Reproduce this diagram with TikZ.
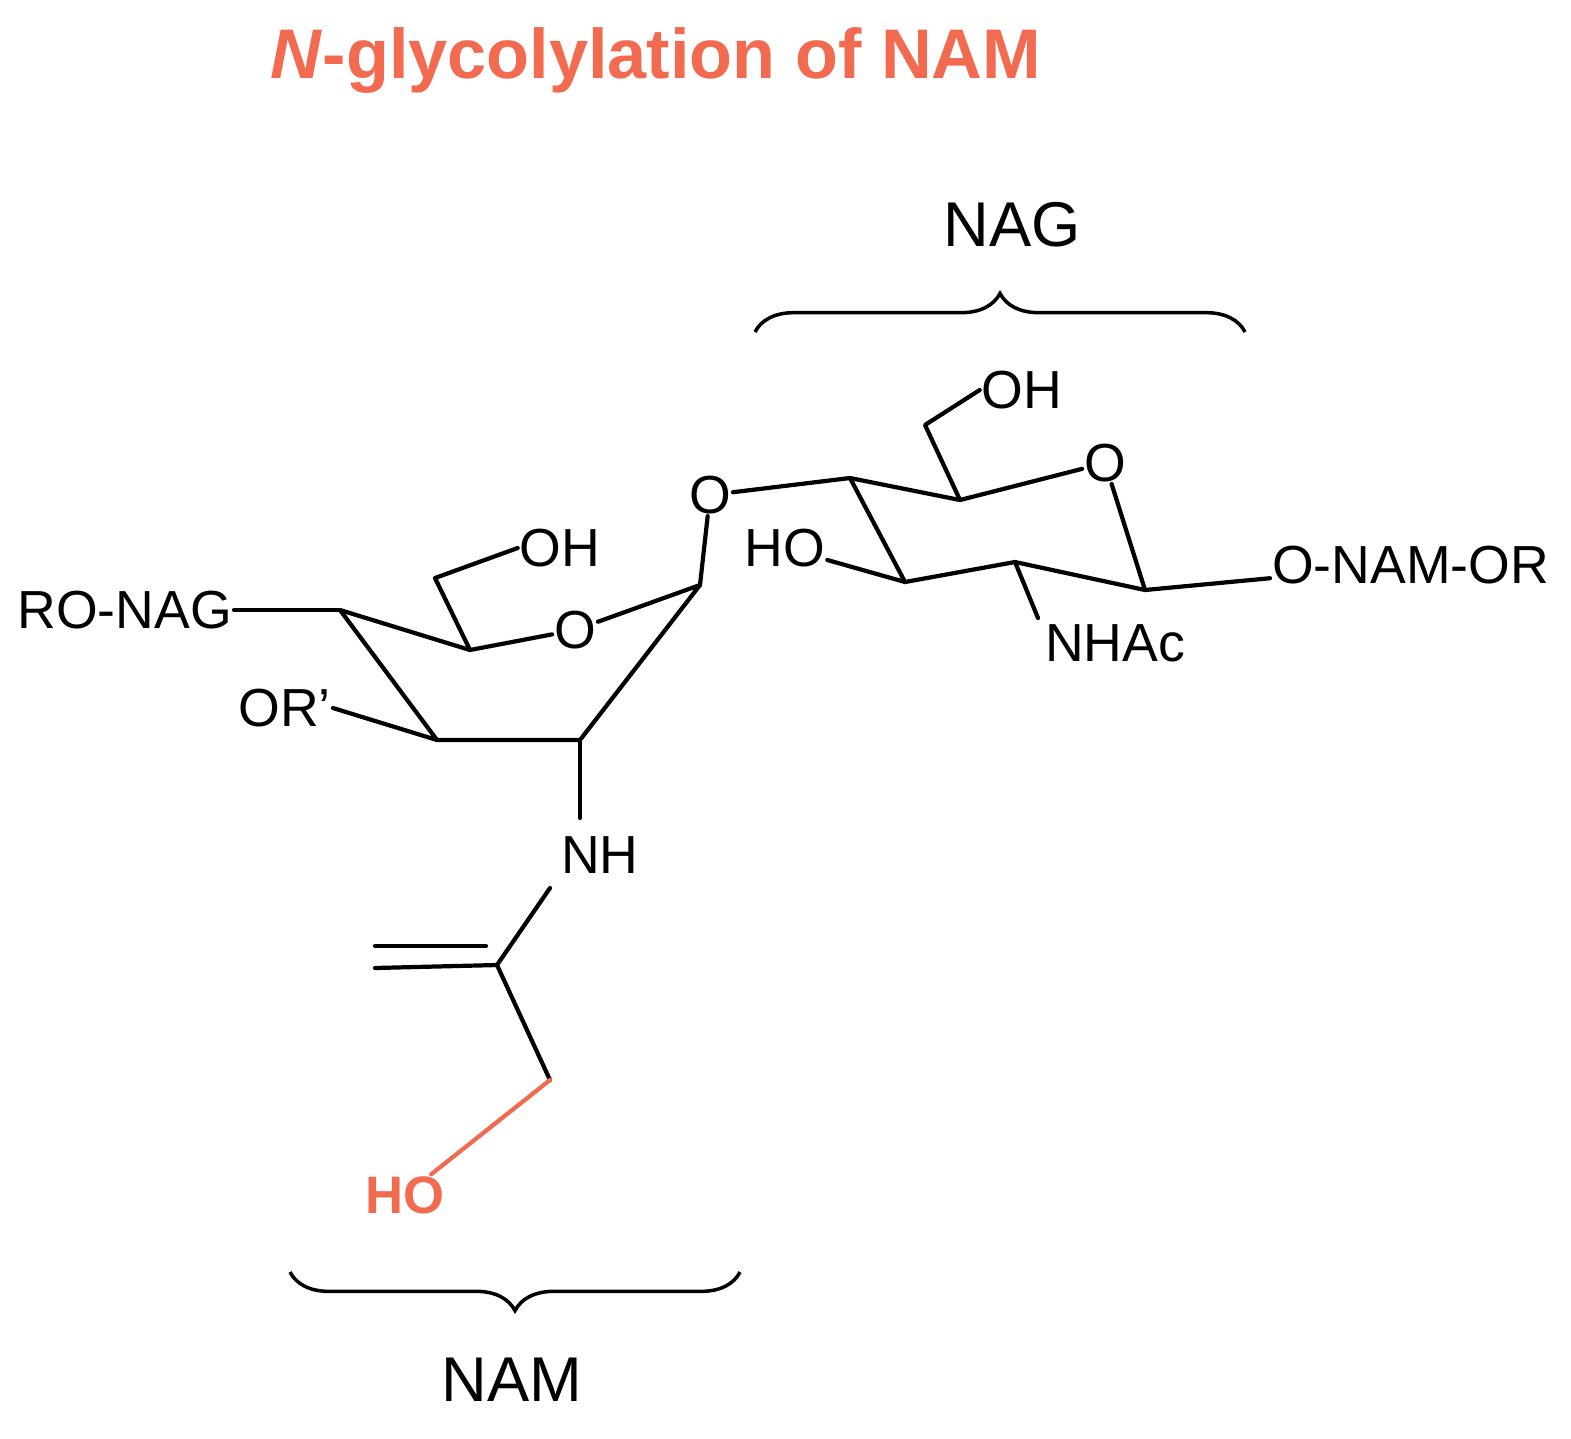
\documentclass[tikz,border=0pt]{standalone}
\usepackage{fontspec}
\setmainfont{Liberation Sans}
\usetikzlibrary{decorations.pathreplacing}
\definecolor{accent}{HTML}{F26A4F}
\begin{document}
\begin{tikzpicture}[x=0.02cm,y=-0.02cm,
  lab/.style={font=\fontsize{30.5}{30}\selectfont, inner sep=1pt},
  bond/.style={line width=2.4pt, line cap=round, line join=round},
  brc/.style={line width=2pt, decorate, decoration={brace, amplitude=22pt}}]
\useasboundingbox (0,0) rectangle (1571,1438);
\node[font=\bfseries\fontsize{40}{40}\selectfont, text=accent] (title) at (656,60) {\textit{N}-glycolylation of NAM};
\node[font=\fontsize{36}{36}\selectfont] (nag) at (1012,225) {NAG};
\node[font=\fontsize{36}{36}\selectfont] (nam) at (512,1380) {NAM};
% braces
\coordinate (b1l) at (755,332); \coordinate (b1r) at (1245,332);
\draw[brc] (b1l) -- (b1r);
\coordinate (b2l) at (740,1272); \coordinate (b2r) at (290,1272);
\draw[brc] (b2l) -- (b2r);
% NAM ring
\coordinate (a4) at (340,610); \coordinate (a5) at (470,650);
\node[lab] (ao) at (575,630) {O};
\coordinate (a1) at (700,585); \coordinate (a2) at (580,740); \coordinate (a3) at (437,740);
\coordinate (a6) at (435,578);
\node[lab] (aoh) at (560,548) {OH};
\node[lab, anchor=east] (rnag) at (234,610) {RO-NAG};
\node[lab, anchor=east] (orp) at (333,708) {OR’};
\node[lab] (nh) at (600,855) {NH};
\coordinate (nht) at (580,818); \coordinate (nhb) at (550,888);
\coordinate (cc) at (497,965); \coordinate (ch2) at (375,968); \coordinate (cb) at (375,946);
\coordinate (cbb) at (486,946);
\coordinate (c6) at (550,1080);
\node[lab, text=accent, font=\bfseries\fontsize{30}{30}\selectfont] (ho2) at (405,1195) {HO};
\node[lab] (glyo) at (710,495) {O};
% NAG ring
\coordinate (b4) at (850,478); \coordinate (b5) at (960,500);
\node[lab] (bo) at (1105,463) {O};
\coordinate (b1) at (1145,590); \coordinate (b2) at (1015,562); \coordinate (b3) at (905,582);
\coordinate (b6) at (925,425);
\node[lab] (boh) at (1022,390) {OH};
\node[lab] (bho) at (785,548) {HO};
\node[lab] (nhac) at (1115,643) {NHAc};
\coordinate (nhact) at (1038,618);
\node[lab, anchor=west] (onam) at (1270,565) {O-NAM-OR};
% bonds NAM
\draw[bond] (a3) -- (a4) -- (a5) -- (ao);
\draw[bond] (ao) -- (a1) -- (a2) -- (a3);
\draw[bond] (a5) -- (a6) -- (aoh.west);
\draw[bond] (rnag) -- (a4);
\draw[bond] (orp.east) -- (a3);
\draw[bond] (a2) -- (nht);
\draw[bond] (nhb) -- (cc) -- (ch2);
\draw[bond] (cb) -- (cbb);
\draw[bond] (cc) -- (c6);
\draw[bond, accent] (c6) -- (ho2);
\draw[bond] (a1) -- (glyo);
\draw[bond] (glyo) -- (b4);
% bonds NAG
\draw[bond] (b3) -- (b4) -- (b5) -- (bo);
\draw[bond] (bo) -- (b1) -- (b2) -- (b3);
\draw[bond] (b5) -- (b6) -- (boh.west);
\draw[bond] (b3) -- (bho);
\draw[bond] (b2) -- (nhact);
\draw[bond] (b1) -- (onam);
\end{tikzpicture}
\end{document}
